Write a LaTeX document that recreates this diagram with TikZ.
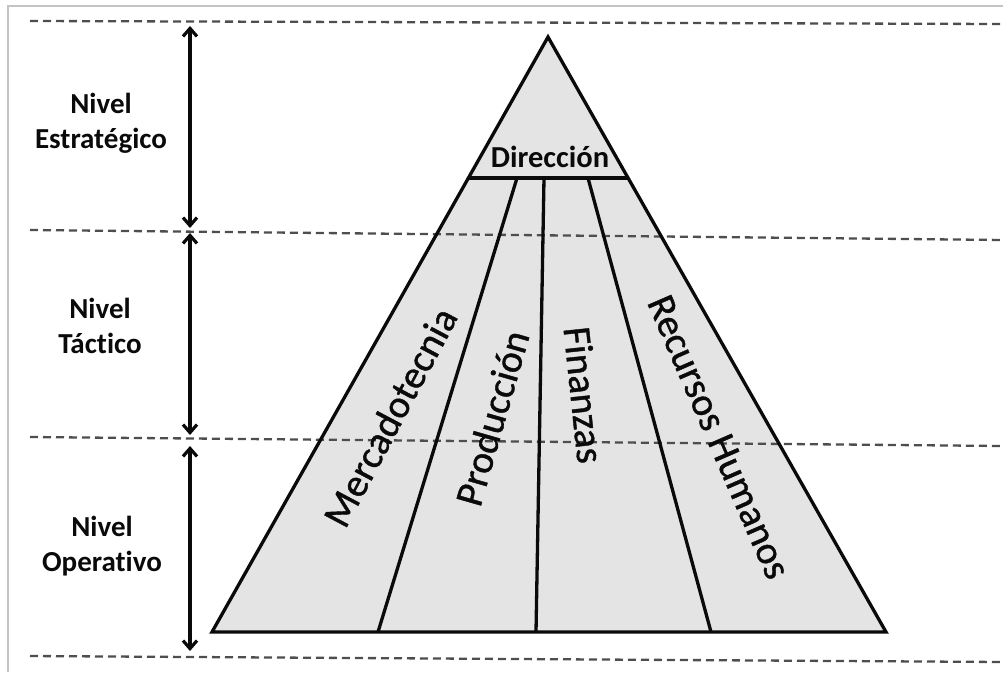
\documentclass[tikz,border=0pt]{standalone}
\usepackage{fontspec}
\setmainfont{Carlito}[Ligatures=NoCommon]
\newfontfamily\areafont{Carlito}[Ligatures=NoCommon,FakeBold=1]
\usetikzlibrary{arrows.meta}
\definecolor{fillgray}{HTML}{E4E4E4}
\definecolor{dashgray}{HTML}{4E4E4E}
\definecolor{framegray}{HTML}{C4C4C4}
\definecolor{ink}{HTML}{0A0A0A}
\tikzset{
  levelline/.style={draw=dashgray, line width=2.3pt, dash pattern=on 8pt off 5pt},
  levelarrow/.style={draw=ink, line width=3.2pt, {Straight Barb[length=8pt,width=14pt]}-{Straight Barb[length=8pt,width=14pt]}},
  edge/.style={draw=ink, line width=3.3pt, line join=miter},
  levellabel/.style={font=\fontsize{29}{35}\selectfont\bfseries, text=ink, align=center, inner sep=0pt},
  arealabel/.style={font=\areafont\fontsize{39.5}{46}\selectfont, text=ink, inner sep=0pt},
  dirlabel/.style={font=\fontsize{30.5}{36}\selectfont\bfseries, text=ink, inner sep=0pt}
}
\begin{document}
\begin{tikzpicture}[x=1pt,y=-1pt]
\useasboundingbox (0,0) rectangle (1003,672);
% frame
\coordinate (fb) at (8,672);
\coordinate (fc) at (8,6);
\coordinate (fr) at (1003,6);
\draw[framegray, line width=1.3pt] (fb) -- (fc) -- (fr);
% dashed level lines
\coordinate (l1a) at (30,21);  \coordinate (l1b) at (1003,24);
\coordinate (l2a) at (30,230); \coordinate (l2b) at (1003,240);
\coordinate (l3a) at (30,437); \coordinate (l3b) at (1003,446);
\coordinate (l4a) at (30,656); \coordinate (l4b) at (1003,662);
% triangle
\coordinate (apex) at (548,37);
\coordinate (bl) at (212,632);
\coordinate (br) at (886,632);
\coordinate (dl) at (468.4,178);
\coordinate (dr) at (628.1,178);
\coordinate (t1) at (517,178); \coordinate (b1) at (378,632);
\coordinate (t2) at (544,178); \coordinate (b2) at (536,632);
\coordinate (t3) at (588,178); \coordinate (b3) at (711,632);
\fill[fillgray] (apex) -- (br) -- (bl) -- cycle;
\draw[levelline] (l1a) -- (l1b);
\draw[levelline] (l2a) -- (l2b);
\draw[levelline] (l3a) -- (l3b);
\draw[levelline] (l4a) -- (l4b);
\draw[edge] (apex) -- (br) -- (bl) -- cycle;
\draw[edge] (dl) -- (dr);
\draw[edge] (t1) -- (b1);
\draw[edge] (t2) -- (b2);
\draw[edge] (t3) -- (b3);
% arrows
\coordinate (a1s) at (190,26);  \coordinate (a1e) at (190,228);
\coordinate (a2s) at (190,233); \coordinate (a2e) at (190,435);
\coordinate (a3s) at (190,446); \coordinate (a3e) at (190,651);
\draw[levelarrow] (a1s) -- (a1e);
\draw[levelarrow] (a2s) -- (a2e);
\draw[levelarrow] (a3s) -- (a3e);
% labels
\node[levellabel] (estr) at (101,123) {Nivel\\Estratégico};
\node[levellabel] (tact) at (100,326) {Nivel\\Táctico};
\node[levellabel] (oper) at (102,546) {Nivel\\Operativo};
\node[dirlabel] (dir) at (550,157) {Dirección};
\node[arealabel, rotate=62] (merc) at (390,417) {Mercadotecnia};
\node[arealabel, rotate=74] (prod) at (492,418) {Producción};
\node[arealabel, rotate=-84] (fin) at (584,395) {Finanzas};
\node[arealabel, rotate=-66.5] (rh) at (719,437) {Recursos Humanos};
\end{tikzpicture}
\end{document}
